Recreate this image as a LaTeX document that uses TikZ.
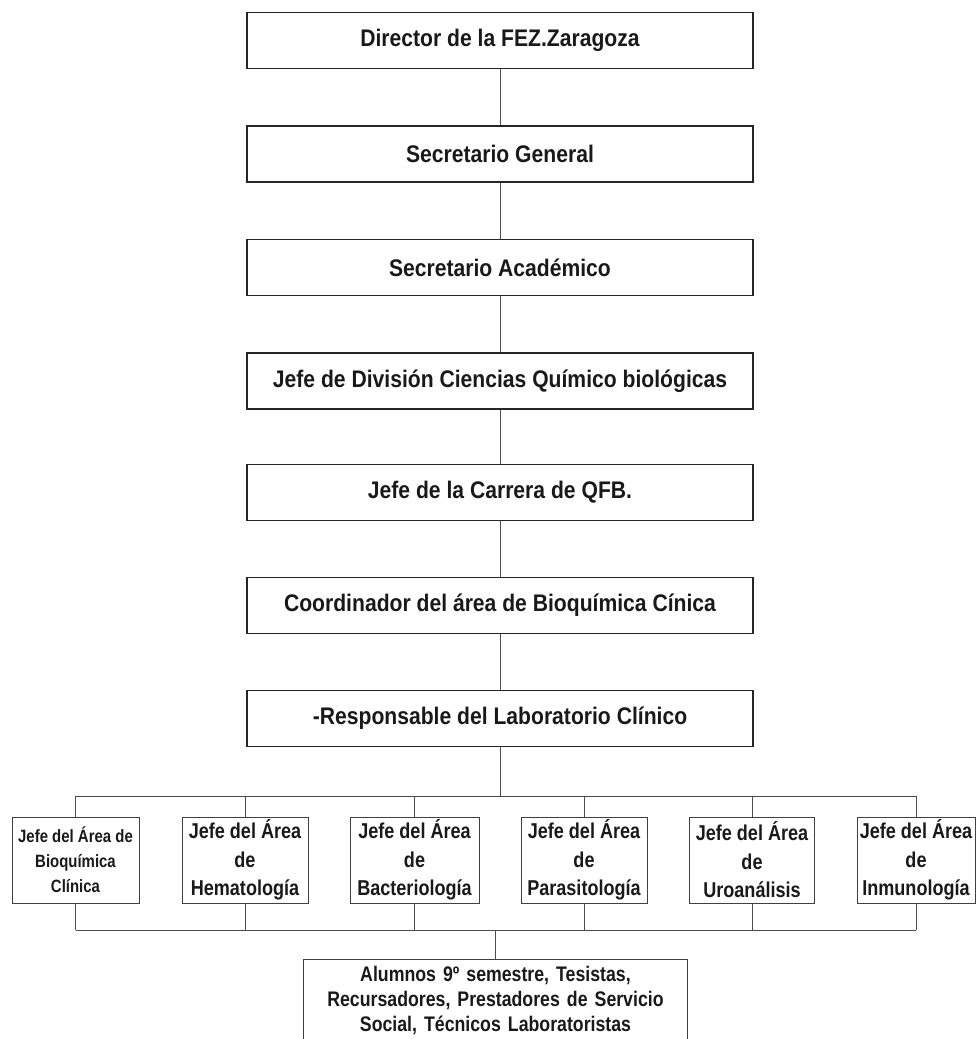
\documentclass[tikz,border=0pt]{standalone}
\usepackage{fontspec}
\newfontfamily\narrowsans{Liberation Sans}[FakeStretch=0.88]
\newfontfamily\narrowersans{Liberation Sans}[FakeStretch=0.84]
\begin{document}
\begin{tikzpicture}[x=1pt,y=-1pt,
  chief/.style={draw=black!85, line width=1.7pt, minimum width=506pt, minimum height=56pt,
    inner sep=0pt, font=\narrowsans\bfseries\fontsize{24}{28}\selectfont, text=black!90},
  area/.style={draw=black!75, line width=1pt, minimum height=86pt, inner sep=0pt,
    align=center, font=\narrowersans\bfseries\fontsize{21.5}{28.5}\selectfont, text=black!90},
  staff/.style={align=center, inner xsep=0pt, inner ysep=7pt, text width=383pt,
    font=\narrowersans\bfseries\fontsize{21.1}{25}\selectfont, text=black!90},
  link/.style={draw=black!70, line width=1pt}]
\useasboundingbox (0,0) rectangle (977,1039);
\clip (0,0) rectangle (977,1039);

% chain of command
\node[chief] (dir)  at (500,40.5)  {Director de la FEZ.Zaragoza};
\node[chief] (sg)   at (500,154)   {Secretario General};
\node[chief] (sa)   at (500,267.5) {Secretario Académico};
\node[chief] (div)  at (500,381)   {Jefe de División Ciencias Químico biológicas};
\node[chief] (qfb)  at (500,492.5) {Jefe de la Carrera de QFB.};
\node[chief] (coor) at (500,605.5) {Coordinador del área de Bioquímica Cínica};
\node[chief] (resp) at (500,718.5) {-Responsable del Laboratorio Clínico};

\foreach \a/\b in {dir/sg, sg/sa, sa/div, div/qfb, qfb/coor, coor/resp}
  \draw[link] (\a.south) -- (\b.north);

% area heads
\node[area, minimum width=127pt, font=\narrowersans\bfseries\fontsize{17.8}{25}\selectfont]
  (a1) at (75.5,860) {Jefe del Área de\\Bioquímica\\Clínica};
\node[area, minimum width=126pt] (a2) at (245,860)   {Jefe del Área\\de\\Hematología};
\node[area, minimum width=129pt] (a3) at (414.5,860) {Jefe del Área\\de\\Bacteriología};
\node[area, minimum width=126pt] (a4) at (584,860)   {Jefe del Área\\de\\Parasitología};
\node[area, minimum width=125pt] (a5) at (752,860)   {Jefe del Área\\de\\Uroanálisis};
\node[area, minimum width=118pt] (a6) at (916,860)   {Jefe del Área\\de\\Inmunología};

% laboratory staff
\node[staff, anchor=north] (al) at (495.5,959)
  {Alumnos 9º semestre, Tesistas,\\Recursadores, Prestadores de Servicio\\Social, Técnicos Laboratoristas};
\coordinate (alend) at (0,1060);
\draw[draw=black!75, line width=1pt] (al.north west) rectangle (al.east |- alend);

% upper bus
\coordinate (busT) at (500,796);
\draw[link] (resp.south) -- (busT);
\draw[link] (a1.north |- busT) -- (a6.north |- busT);
\foreach \n in {a1,a2,a3,a4,a5,a6}
  \draw[link] (\n.north) -- (\n.north |- busT);

% lower bus
\coordinate (busB) at (495,930);
\draw[link] (a1.south |- busB) -- (a6.south |- busB);
\foreach \n in {a1,a2,a3,a4,a5,a6}
  \draw[link] (\n.south) -- (\n.south |- busB);
\draw[link] (busB) -- (busB |- al.north);
\end{tikzpicture}
\end{document}
